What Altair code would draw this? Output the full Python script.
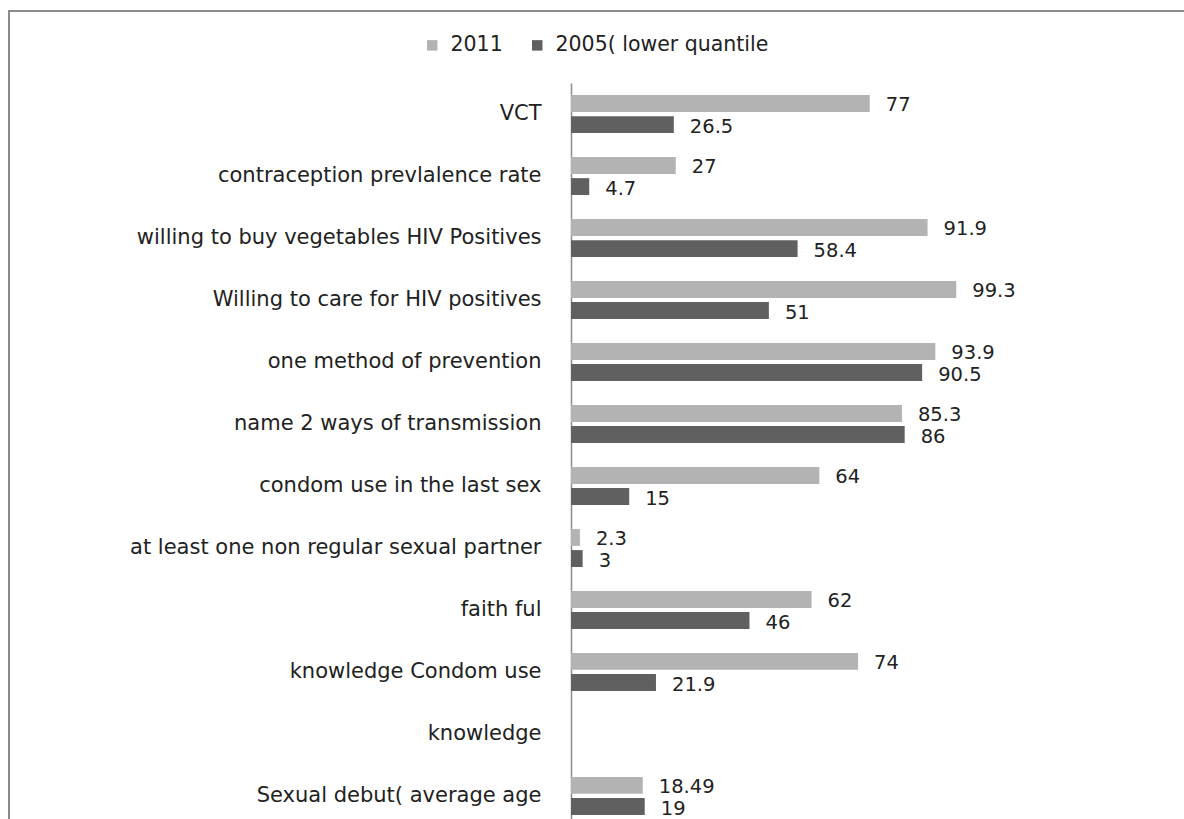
import altair as alt
import pandas as pd

# Indicators, top to bottom
categories = [
    "VCT",
    "contraception prevlalence rate",
    "willing to buy vegetables HIV Positives",
    "Willing to care  for HIV positives",
    "one method of prevention",
    "name  2 ways of transmission",
    "condom use in the last sex",
    "at least one non regular sexual partner",
    "faith ful",
    "knowledge Condom use",
    "knowledge",
    "Sexual debut( average age",
]

series = ["2011", "2005( lower quantile"]

values_2011 = [77, 27, 91.9, 99.3, 93.9, 85.3, 64, 2.3, 62, 74, None, 18.49]
values_2005 = [26.5, 4.7, 58.4, 51, 90.5, 86, 15, 3, 46, 21.9, None, 19]

colors = ["#b3b3b3", "#606060"]

rows = []
for cat, a, b in zip(categories, values_2011, values_2005):
    for name, v in ((series[0], a), (series[1], b)):
        if v is not None:
            rows.append({"indicator": cat, "period": name, "value": v, "label": f"{v:g}"})
df = pd.DataFrame(rows)

FONT = "DejaVu Sans"
INK = "#222222"

y_enc = alt.Y(
    "indicator:N",
    sort=categories,
    scale=alt.Scale(domain=categories, range=[0, 744], paddingInner=0.387, paddingOuter=0.194),
    axis=alt.Axis(
        title=None,
        ticks=False,
        grid=False,
        domainColor="#8c8c8c",
        domainWidth=1.5,
        labelFont=FONT,
        labelFontSize=21,
        labelColor=INK,
        labelPadding=30,
        labelLimit=700,
    ),
)
x_enc = alt.X("value:Q", scale=alt.Scale(domain=[0, 100], nice=False), axis=None)
yoff = alt.YOffset("period:N", sort=series, scale=alt.Scale(domain=series, paddingInner=0.2, paddingOuter=0))

base = alt.Chart(df)

bars = base.mark_bar().encode(
    y=y_enc,
    x=x_enc,
    yOffset=yoff,
    color=alt.Color(
        "period:N",
        sort=series,
        scale=alt.Scale(domain=series, range=colors),
        legend=alt.Legend(
            title=None,
            orient="none",
            direction="horizontal",
            legendX=-149,
            legendY=-48,
            symbolType="square",
            symbolSize=110,
            symbolStrokeWidth=0,
            labelFont=FONT,
            labelFontSize=20.5,
            labelColor=INK,
            labelOffset=8,
            columnPadding=24,
            labelLimit=400,
        ),
    ),
)

labels = base.mark_text(align="left", baseline="middle", dx=16, dy=2, font=FONT, fontSize=19.5, color=INK).encode(
    y=alt.Y("indicator:N", sort=categories),
    x=alt.X("value:Q"),
    yOffset=alt.YOffset("period:N", sort=series),
    text="label:N",
)

# chart-area frame (left and top edges)
frame_data = alt.Data(values=[{"k": 0}])
frame_left = alt.Chart(frame_data).mark_rule(color="#8a8a8a", strokeWidth=2).encode(
    x=alt.value(-562), y=alt.value(-72), y2=alt.value(760)
)
frame_top = alt.Chart(frame_data).mark_rule(color="#8a8a8a", strokeWidth=2).encode(
    x=alt.value(-563), x2=alt.value(700), y=alt.value(-72)
)

chart = (
    alt.layer(bars, labels, frame_left, frame_top)
    .properties(
        width=388,
        height=736,
        autosize=alt.AutoSizeParams(type="none"),
        padding={"left": 571, "top": 83, "right": 225, "bottom": 0},
        background="white",
    )
    .configure_view(stroke=None)
)

chart.save("out.html", embed_options={"renderer": "svg", "actions": False})
